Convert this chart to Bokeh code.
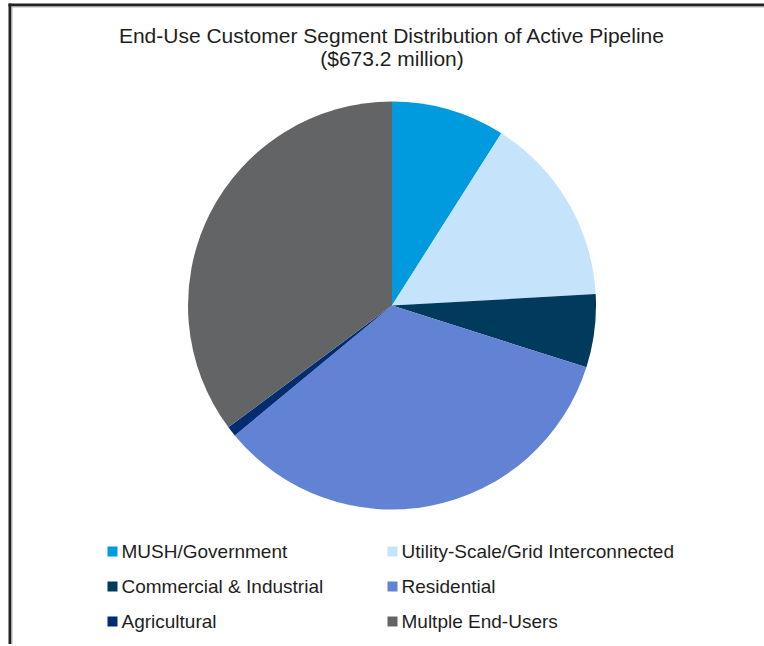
import math
from bokeh.plotting import figure
from bokeh.models import Range1d, ColumnDataSource, InlineStyleSheet
from bokeh.core.properties import value
from bokeh.embed import file_html
from bokeh.resources import INLINE

# Data ($ million), order clockwise from 12 o'clock
categories = ["MUSH/Government", "Utility-Scale/Grid Interconnected",
              "Commercial & Industrial", "Residential",
              "Agricultural", "Multple End-Users"]
values_musd = [60.6, 101.7, 39.0, 229.6, 5.4, 236.9]
colors = ["#009ADE", "#C5E3FA", "#003A5D", "#6283D4", "#002D72", "#636466"]
title_lines = ["End-Use Customer Segment Distribution of Active Pipeline",
               "($673.2 million)"]

W, H = 764, 644
FONT = "Liberation Sans"
TXT = "#1e1e1e"

def py(page_y):
    return H - page_y

p = figure(width=W, height=H, output_backend="svg", toolbar_location=None,
           x_range=Range1d(0, W), y_range=Range1d(0, H), min_border=0,
           outline_line_color=None)
p.stylesheets = [InlineStyleSheet(css=":host { overflow: hidden; }")]
p.axis.visible = False
p.grid.visible = False
p.background_fill_color = "white"
p.border_fill_color = "white"

# pie
total = sum(values_musd)
starts, ends = [], []
cum = 0.0
for v in values_musd:
    a0 = math.pi / 2 - 2 * math.pi * (cum + v) / total
    a1 = math.pi / 2 - 2 * math.pi * cum / total
    starts.append(a0)
    ends.append(a1)
    cum += v
src = ColumnDataSource(dict(start=starts, end=ends, color=colors, cat=categories))
p.wedge(x=391.5, y=py(305), radius=204, start_angle="start", end_angle="end",
        fill_color="color", line_color=None, source=src)

# title
p.text(x=[391.5], y=[py(35)], text=[title_lines[0]], text_font=value(FONT),
       text_font_size="21px", text_color=TXT, text_align="center", text_baseline="middle")
p.text(x=[391.5], y=[py(58)], text=[title_lines[1]], text_font=value(FONT),
       text_font_size="21px", text_color=TXT, text_align="center", text_baseline="middle")

# legend (two columns, row-major)
col_x = [107, 387]
row_y = [551, 586, 621]
lx, ly, tx = [], [], []
for i, c in enumerate(categories):
    r, k = divmod(i, 2)
    lx.append(col_x[k] + 5)
    ly.append(py(row_y[r]))
    tx.append(col_x[k] + 14)
lsrc = ColumnDataSource(dict(x=lx, y=ly, tx=tx, color=colors, cat=categories))
p.rect(x="x", y="y", width=10, height=10, fill_color="color", line_color=None, source=lsrc)
p.text(x="tx", y="y", text="cat", text_font=value(FONT), text_font_size="19px",
       text_color=TXT, text_align="left", text_baseline="middle", source=lsrc)

# frame (left and top edges) as filled bands
p.quad(left=[8, 8], right=[11, W], top=[py(3), py(3)], bottom=[0, py(6)],
       fill_color="#222222", line_color=None)
p.quad(left=[11, 11], right=[12, W], top=[py(6), py(6)], bottom=[0, py(7)],
       fill_color="#b5b5b5", line_color=None)

open("out.html", "w").write(file_html(p, INLINE))
